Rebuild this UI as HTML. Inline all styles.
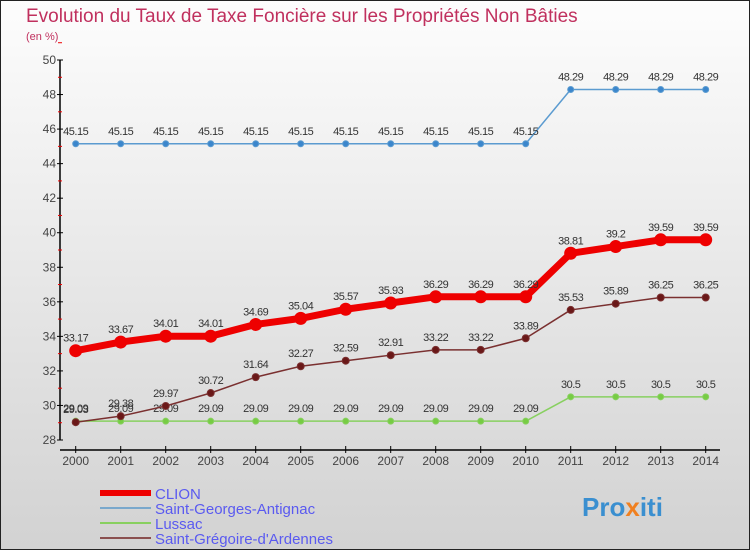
<!DOCTYPE html>
<html><head><meta charset="utf-8"><style>
body{margin:0;width:750px;height:550px;overflow:hidden;font-family:"Liberation Sans",sans-serif}
svg{display:block}
</style></head><body>
<svg id="c" width="750" height="550" xmlns="http://www.w3.org/2000/svg">
<defs><linearGradient id="bg" x1="0" y1="0" x2="0" y2="1"><stop offset="0" stop-color="#fdfdfd"/><stop offset="1" stop-color="#d2d2d2"/></linearGradient></defs>
<rect x="0.5" y="0.5" width="749" height="549" fill="url(#bg)" stroke="#222"/>
<text x="26" y="22" font-size="19" fill="#c0305e">Evolution du Taux de Taxe Foncière sur les Propriétés Non Bâties</text>
<text x="26" y="40" font-size="11" fill="#c0305e">(en %)</text>
<g id="axes"></g><g id="series"></g><g id="legend"></g>
<text x="582" y="516" font-size="26" font-weight="bold" fill="#3a8fd0">Pro<tspan fill="#f08020">x</tspan>iti</text>
</svg>
<script>
const years=[2000,2001,2002,2003,2004,2005,2006,2007,2008,2009,2010,2011,2012,2013,2014];
const clion=[33.17,33.67,34.01,34.01,34.69,35.04,35.57,35.93,36.29,36.29,36.29,38.81,39.2,39.59,39.59];
const stGeorges=[45.15,45.15,45.15,45.15,45.15,45.15,45.15,45.15,45.15,45.15,45.15,48.29,48.29,48.29,48.29];
const lussac=[29.09,29.09,29.09,29.09,29.09,29.09,29.09,29.09,29.09,29.09,29.09,30.5,30.5,30.5,30.5];
const stGregoire=[29.03,29.38,29.97,30.72,31.64,32.27,32.59,32.91,33.22,33.22,33.89,35.53,35.89,36.25,36.25];
const yTicks=[28,30,32,34,36,38,40,42,44,46,48,50];
const NS="http://www.w3.org/2000/svg";
const X=i=>75.7+i*45, Y=v=>440-(v-28)*(380/22);
function mk(p,t,a){const e=document.createElementNS(NS,t);for(const k in a)e.setAttribute(k,a[k]);p.appendChild(e);return e;}
const ax=document.getElementById('axes');
const yl=mk(ax,'line',{x1:60,y1:Y(50),x2:60,y2:Y(28),stroke:'#000','stroke-width':1.5});


yTicks.forEach(v=>{
 mk(ax,'line',{x1:57,y1:Y(v),x2:63,y2:Y(v),stroke:'#000'});
 mk(ax,'line',{x1:58,y1:Y(v+1),x2:62,y2:Y(v+1),stroke:'#e00'});
 const t=mk(ax,'text',{x:56,y:Y(v)+4,'font-size':12,fill:'#444','text-anchor':'end'});t.textContent=v;
 
 
});
const xl=mk(ax,'line',{x1:60,y1:450,x2:720,y2:450,stroke:'#000','stroke-width':1.5});


years.forEach((yr,i)=>{
 mk(ax,'line',{x1:X(i),y1:446,x2:X(i),y2:453,stroke:'#000'});
 const t=mk(ax,'text',{x:X(i),y:465,'font-size':12,fill:'#444','text-anchor':'middle'});t.textContent=yr;
 
 
});
const sg=document.getElementById('series');
function series(name,data,color,w,r,dot){
 const g=mk(sg,'g',{});
 
 
 const l=mk(g,'polyline',{points:data.map((v,i)=>X(i)+','+Y(v)).join(' '),fill:'none',stroke:color,'stroke-width':w,'stroke-linejoin':'round'});
 
 
 data.forEach((v,i)=>{
  const c=mk(g,'circle',{cx:X(i),cy:Y(v),r:r,fill:dot,stroke:color,'stroke-width':1});
  
  
  const t=mk(g,'text',{x:X(i),y:Y(v)-9,'font-size':11,fill:'#333','text-anchor':'middle','letter-spacing':'-0.5'});t.textContent=v;
  
  
 });
}
series('saint-georges',stGeorges,'#5b9bd0',1.5,3,'#3b86cc');
series('lussac',lussac,'#88d060',1.5,3,'#77cc44');
series('saint-gregoire',stGregoire,'#7a3030',1.5,3.5,'#6a1818');
series('clion',clion,'#ee0000',7,6,'#ee0000');
const lg=document.getElementById('legend');
[['CLION','#ee0000',6],['Saint-Georges-Antignac','#7aa8cc',2],['Lussac','#88d060',2],['Saint-Grégoire-d\'Ardennes','#8a5050',2]].forEach((e,i)=>{
 const y=493+i*15;
 const g=mk(lg,'g',{});
 
 
 mk(g,'line',{x1:100,y1:y,x2:151,y2:y,stroke:e[1],'stroke-width':e[2]});
 const t=mk(g,'text',{x:155,y:y+6,'font-size':15,fill:'#5a5af0'});t.textContent=e[0];
});
</script>
</body></html>
